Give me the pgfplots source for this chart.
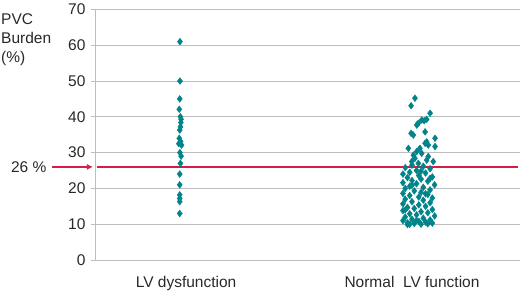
\documentclass[border=0pt]{standalone}
\usepackage{pgfplots}
\pgfplotsset{compat=1.18}
\usetikzlibrary{arrows.meta}
\usepackage{fontspec}
\setmainfont{Liberation Sans}
\definecolor{teal1}{RGB}{0,132,138}
\definecolor{redl}{RGB}{218,28,68}
\definecolor{gridc}{RGB}{190,190,190}
\definecolor{txt}{RGB}{40,40,40}
\begin{document}
\begin{tikzpicture}
\useasboundingbox (-95pt,-30pt) rectangle (425pt,260pt);
\begin{axis}[
  at={(0pt,0pt)}, anchor=south west,
  scale only axis, width=425pt, height=250.6pt,
  xmin=0.597, xmax=2.478, ymin=0, ymax=70,
  ytick={0,10,...,70}, xtick={1,2},
  xticklabels={LV dysfunction, Normal\ \ LV function},
  axis x line*=bottom, axis y line*=left,
  x axis line style={gridc, -}, y axis line style={gridc, -},
  ymajorgrids, grid style={gridc, line width=0.8pt},
  major x tick style={draw=none},
  major y tick style={gridc, line width=0.8pt},
  tick align=outside, major tick length=4pt,
  ticklabel style={font=\fontsize{15.5}{17}\selectfont, text=txt},
  /pgf/number format/assume math mode=true,
  yticklabel style={xshift=-2pt},
  xticklabel style={yshift=-9pt},
  clip=false,
]
\addplot[redl, line width=1.3pt] coordinates {(0.605,26) (2.47,26)};
\draw[redl, line width=1.3pt, -{Latex[length=6pt,width=6pt]}] (axis cs:0.407,26) -- (axis cs:0.588,26);
\node[anchor=east, font=\fontsize{15.5}{17}\selectfont, text=txt, inner sep=0pt] at (axis cs:0.383,26) {26 \%};
\addplot[only marks, mark=diamond*, mark size=3.4pt, teal1, mark options={draw=teal1, fill=teal1}] coordinates {
(0.973,61) (0.973,50) (0.972,45) (0.970,42.1) (0.975,40) (0.978,39.3) (0.977,38.4) (0.975,37.2) (0.972,36.3)
(0.970,34.0) (0.976,33.1) (0.980,32.1) (0.968,32.5) (0.973,30) (0.978,29) (0.975,27) (0.972,24) (0.972,21)
(0.972,18.2) (0.972,17.2) (0.972,16.3) (0.972,13)
};
\addplot[only marks, mark=diamond*, mark size=3.4pt, teal1, mark options={draw=teal1, fill=teal1}] coordinates {
(2.013,45.2) (1.996,43.1) (2.08,41.0) (2.065,39.3) (2.054,38.9) (2.043,39.1) (2.028,38.2) (2.021,37.7)
(2.058,35.8) (1.996,35.4) (2.006,34.9) (2.102,34.0) (2.065,33.0) (2.058,32.6) (2.072,32.1) (1.984,31.2)
(2.035,31.2) (2.102,31.7) (2.021,30.3) (2.006,29.3) (2.043,29.8) (2.072,28.9) (2.013,28.4) (2.065,27.9)
(2.094,27.5) (1.999,27.5) (2.028,27.0)
(2.00,26.5) (2.05,26.2) (1.97,25.8) (2.08,25.5) (2.02,25.0) (1.99,24.5) (2.06,24.3) (1.96,24.0) (2.03,23.6)
(2.09,23.2) (1.98,23.0) (2.04,22.6) (2.00,22.2) (2.07,22.0) (1.96,21.6) (2.02,21.3) (2.10,21.0) (1.99,20.6)
(2.05,20.3) (1.97,20.0) (2.08,19.6) (2.01,19.3) (2.04,18.9) (1.96,18.6) (2.07,18.3) (1.99,18.0) (2.03,17.6)
(2.09,17.3) (1.97,17.0) (2.05,16.7) (2.00,16.3) (2.08,16.0) (1.96,15.7) (2.03,15.4) (2.06,15.0) (1.98,14.7)
(2.01,14.4) (2.09,14.1) (1.96,13.8) (2.04,13.5) (2.07,13.2) (1.99,12.9) (2.02,12.6) (2.10,12.3) (1.97,12.0)
(2.05,11.7) (2.00,11.4) (2.08,11.2) (1.96,11.0) (2.03,10.8) (2.06,10.6) (1.98,10.4) (2.01,10.2) (2.04,10.0)
(1.99,10.0) (2.07,10.1) (2.09,10.3) (2.02,11.0) (1.97,14.0) (2.06,18.5) (2.00,20.9) (2.04,24.8) (1.98,9.9)
(2.08,22.8)
};
\end{axis}
\node[anchor=north west, align=left, font=\fontsize{15.5}{19}\selectfont, text=txt, inner sep=0pt] at (-94pt,247pt) {PVC\\Burden\\(\%)};
\end{tikzpicture}
\end{document}
